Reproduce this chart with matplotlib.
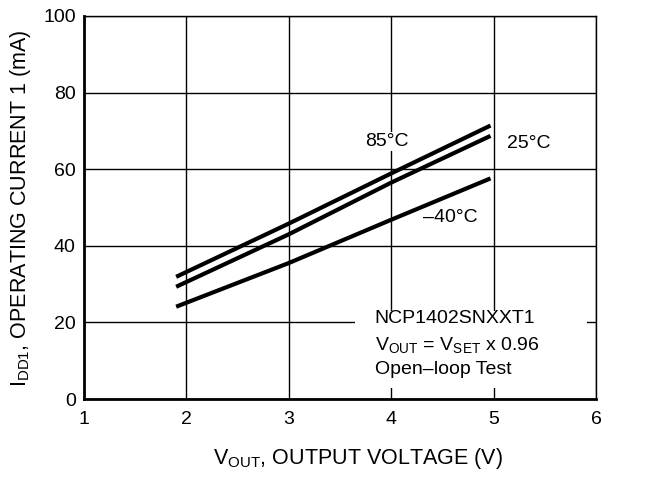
import matplotlib
matplotlib.use("Agg")
import matplotlib.pyplot as plt

plt.rcParams['font.family'] = ['Liberation Sans', 'DejaVu Sans']
plt.rcParams['mathtext.fontset'] = 'custom'
plt.rcParams['mathtext.rm'] = 'Liberation Sans'

# Data
vout = [1.9, 3.0, 4.0, 4.97]
i_85 = [31.9, 45.8, 58.9, 71.4]
i_25 = [29.3, 43.0, 56.5, 68.7]
i_m40 = [24.1, 35.5, 46.8, 57.6]

x_ticks = [1, 2, 3, 4, 5, 6]
y_ticks = [0, 20, 40, 60, 80, 100]

FS = 14
FS_LBL = 15.5

fig = plt.figure(figsize=(6.47, 4.78), dpi=100)
ax = fig.add_axes([84/647, 1-399/478, (596-84)/647, (399-16)/478])

ax.set_xlim(1, 6)
ax.set_ylim(0, 100)
ax.set_xticks(x_ticks)
ax.set_yticks(y_ticks)
ax.grid(True, color='black', linewidth=1.0)
ax.set_axisbelow(True)
ax.tick_params(axis='x', length=0, labelsize=FS, pad=9)
ax.tick_params(axis='y', length=0, labelsize=FS, pad=6)

for s in ['top', 'right']:
    ax.spines[s].set_linewidth(1.0)
for s in ['left', 'bottom']:
    ax.spines[s].set_linewidth(2.0)

for y in (i_85, i_25, i_m40):
    ax.plot(vout, y, color='black', linewidth=3.0, solid_capstyle='butt', zorder=3)

lbl = dict(fontsize=FS, ha='center', va='center', zorder=4)
ax.text(3.955, 67.2, '85°C', bbox=dict(facecolor='white', edgecolor='none', pad=1), **lbl)
ax.text(5.34, 66.8, '25°C', **lbl)
ax.text(4.58, 47.3, '\u201340°C', **lbl)

# white box behind annotation
ax.add_patch(plt.Rectangle((3.65, 2.9), 2.26, 20.1, facecolor='white', edgecolor='none', zorder=2))
tx = dict(fontsize=FS, ha='left', va='center', zorder=4)
ax.text(3.84, 21.1, 'NCP1402SNXXT1', **tx)
ax.text(3.84, 14.0, r'V$_\mathregular{OUT}$ = V$_\mathregular{SET}$ x 0.96', **tx)
ax.text(3.84, 7.6, 'Open\u2013loop Test', **tx)

ax.set_xlabel(r'V$_\mathregular{OUT}$, OUTPUT VOLTAGE (V)', fontsize=FS_LBL)
ax.set_ylabel(r'I$_\mathregular{DD1}$, OPERATING CURRENT 1 (mA)', fontsize=FS_LBL)
ax.xaxis.set_label_coords((358.5-84)/512, (399-446)/383)
ax.yaxis.set_label_coords((33-84)/512, (399-208.5)/383)

fig.savefig('out.png', dpi=100)
